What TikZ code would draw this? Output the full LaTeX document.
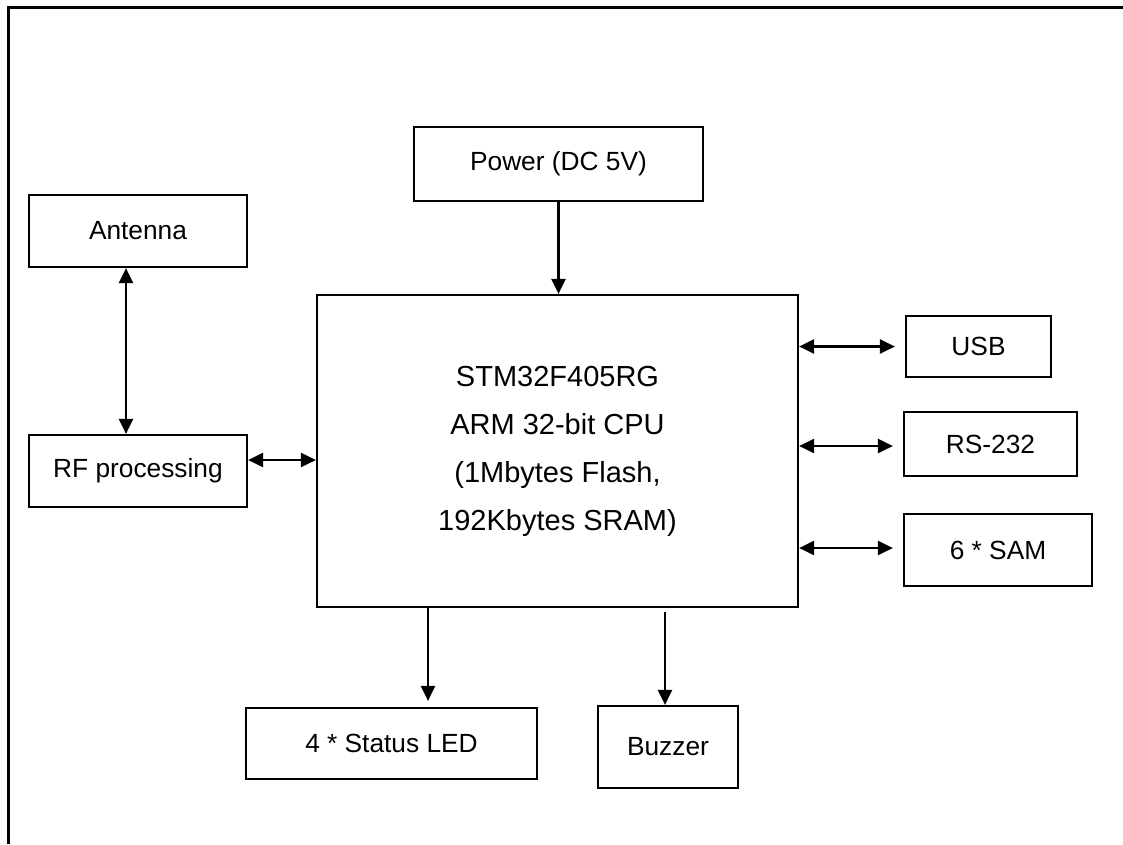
\documentclass[tikz,border=0pt]{standalone}
\usepackage{fontspec}
\setmainfont{Liberation Sans}
\usetikzlibrary{arrows.meta}
\begin{document}
\begin{tikzpicture}[x=1pt, y=-1pt,
  blok/.style={draw, line width=2.2pt, inner sep=0pt, align=center,
    font=\fontsize{26.3}{30}\selectfont},
  pijl/.style={line width=2.4pt, -{Triangle[length=15pt, width=14pt]}},
  dubbel/.style={line width=2.4pt, {Triangle[length=15pt, width=14pt]}-{Triangle[length=15pt, width=14pt]}}]
\useasboundingbox (0,0) rectangle (1123,844);

% Kader
\draw[line width=3pt] (8,844) -- (8,7) -- (1123,7);

% Blokken
\node[blok, minimum width=289pt, minimum height=74pt] (power) at (558.5,164) {Power (DC 5V)};
\node[blok, minimum width=218pt, minimum height=72pt] (antenna) at (138,231) {Antenna};
\node[blok, minimum width=218pt, minimum height=72pt] (rf) at (138,471) {RF processing};
\node[blok, minimum width=481pt, minimum height=312pt,
  font=\fontsize{29}{48}\selectfont] (cpu) at (557.5,451)
  {STM32F405RG\\ARM 32-bit CPU\\(1Mbytes Flash,\\192Kbytes SRAM)};
\node[blok, minimum width=145pt, minimum height=61pt] (usb) at (978.5,346.5) {USB};
\node[blok, minimum width=173pt, minimum height=64pt] (rs) at (990.5,444) {RS-232};
\node[blok, minimum width=188pt, minimum height=72pt] (sam) at (998,550) {6 * SAM};
\node[blok, minimum width=291pt, minimum height=71pt] (led) at (391.5,743.5) {4 * Status LED};
\node[blok, minimum width=140pt, minimum height=82pt] (buzzer) at (668,747) {Buzzer};

% Verbindingen
\draw[pijl] (power.south) -- (power.south |- cpu.north);
\draw[dubbel] ([xshift=-12pt]antenna.south) -- ([xshift=-12pt]rf.north);
\draw[dubbel] ([yshift=11pt]rf.east) -- ([yshift=11pt]rf.east -| cpu.west);
\draw[dubbel] (usb.west -| cpu.east) -- ([xshift=-10pt]usb.west);
\draw[dubbel] ([yshift=-2pt]rs.west -| cpu.east) -- ([xshift=-10pt, yshift=-2pt]rs.west);
\draw[dubbel] ([yshift=2pt]sam.west -| cpu.east) -- ([xshift=-10pt, yshift=2pt]sam.west);
\draw[pijl] ([xshift=36.5pt]led.north |- cpu.south) -- ([xshift=36.5pt, yshift=6pt]led.north);
\draw[pijl, shorten <=4pt] ([xshift=-3pt]buzzer.north |- cpu.south) -- ([xshift=-3pt]buzzer.north);
\end{tikzpicture}
\end{document}
